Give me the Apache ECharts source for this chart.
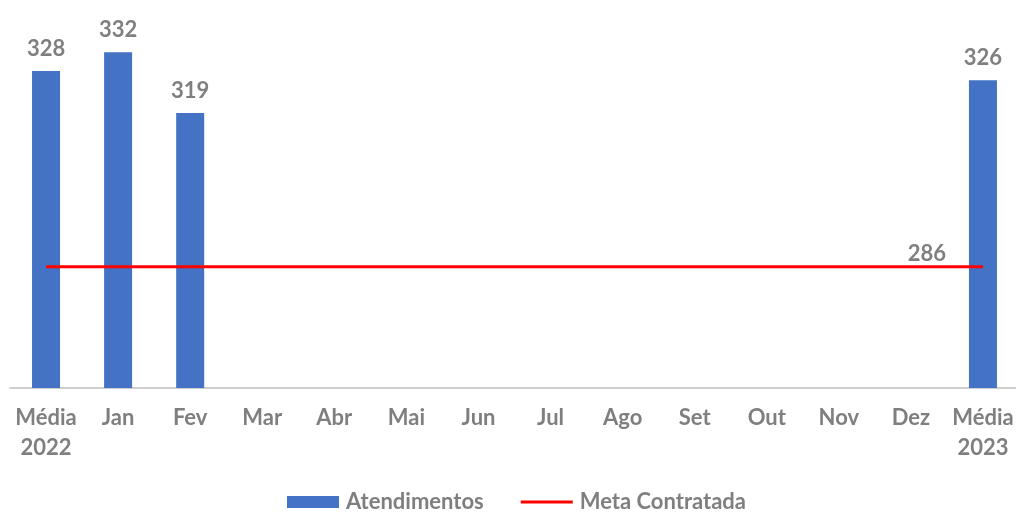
<!DOCTYPE html>
<html>
<head>
<meta charset="utf-8">
<script src="https://cdn.jsdelivr.net/npm/echarts@6/dist/echarts.min.js"></script>
<style>
  html, body { margin: 0; padding: 0; background: #fff; }
  #chart { width: 1016px; height: 512px; }
</style>
</head>
<body>
<div id="chart"></div>
<script>
// dados do gráfico
const categorias = ['Média\n2022', 'Jan', 'Fev', 'Mar', 'Abr', 'Mai', 'Jun', 'Jul', 'Ago', 'Set', 'Out', 'Nov', 'Dez', 'Média\n2023'];
const atendimentos = [328, 332, 319, null, null, null, null, null, null, null, null, null, null, 326];
const meta = [286, 286, 286, 286, 286, 286, 286, 286, 286, 286, 286, 286, 286, 286];

const cinza = '#7f7f7f';
const fonte = 'Lato, "Open Sans", sans-serif';

const myChart = echarts.init(document.getElementById('chart'));
myChart.setOption({
  animation: false,
  textStyle: { fontFamily: fonte },
  grid: { left: 10, top: 15, width: 1009, height: 373, outerBoundsMode: 'none' },
  legend: {
    top: 486,
    left: 282,
    itemGap: 37,
    itemWidth: 52,
    itemHeight: 12,
    textStyle: { color: cinza, fontSize: 22, fontWeight: 'bold', fontFamily: fonte, padding: [0, 0, 0, 2] },
    data: [
      { name: 'Atendimentos', icon: 'rect' },
      { name: 'Meta Contratada', icon: 'path://M0,0 L52,0 L52,3 L0,3 Z', itemStyle: { color: '#ff0000' } }
    ]
  },
  xAxis: {
    type: 'category',
    data: categorias,
    axisLine: { lineStyle: { color: '#bfbfbf', width: 1.5 } },
    axisTick: { length: 6, lineStyle: { color: '#bfbfbf' } },
    axisLabel: {
      interval: 0,
      color: cinza,
      fontSize: 22,
      fontWeight: 'bold',
      lineHeight: 30,
      margin: 15
    }
  },
  yAxis: {
    type: 'value',
    min: 260,
    max: 340,
    show: false,
    splitLine: { show: false }
  },
  series: [
    {
      name: 'Atendimentos',
      type: 'bar',
      data: atendimentos,
      barWidth: 28,
      itemStyle: { color: '#4472c4' },
      label: {
        show: true,
        position: 'top',
        distance: 11,
        color: cinza,
        fontSize: 22,
        fontWeight: 'bold'
      }
    },
    {
      name: 'Meta Contratada',
      type: 'line',
      data: meta,
      symbol: 'none',
      lineStyle: { color: '#ff0000', width: 3 },
      itemStyle: { color: '#ff0000' },
      z: 3,
      markPoint: {
        symbol: 'circle',
        symbolSize: 0,
        data: [{ coord: [13, 286], value: 286 }],
        label: {
          show: true,
          position: 'top',
          offset: [-56, 0],
          distance: 2,
          color: cinza,
          fontSize: 22,
          fontWeight: 'bold'
        }
      }
    }
  ]
});
</script>
</body>
</html>
